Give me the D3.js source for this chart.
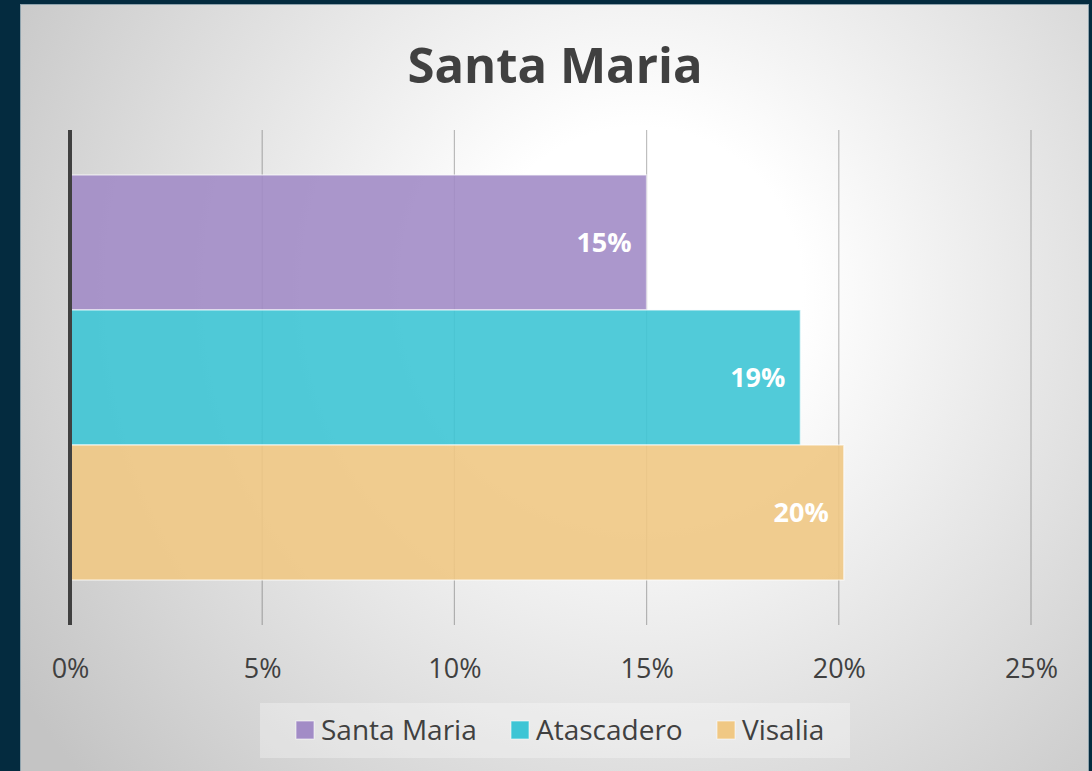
<!DOCTYPE html>
<html>
<head>
<meta charset="utf-8">
<script src="https://cdn.jsdelivr.net/npm/d3@7"></script>
<style>
  body { margin: 0; background: #042b3f; }
  svg { display: block; }
</style>
</head>
<body>
<div id="chart"></div>
<script>
// data
const series = ["Santa Maria", "Atascadero", "Visalia"];
const values = [0.15, 0.19, 0.2013];
const colors = ["#a28cc6", "#3ec5d5", "#f0c884"];
const ticks = [0, 0.05, 0.10, 0.15, 0.20, 0.25];
const title = "Santa Maria";

const W = 1092, H = 771;
const font = "'Open Sans', 'Noto Sans', sans-serif";

const svg = d3.select("#chart")
  .append("svg")
  .attr("width", W)
  .attr("height", H);

// background gradient of the panel
const defs = svg.append("defs");
const grad = defs.append("radialGradient")
  .attr("id", "bg")
  .attr("gradientUnits", "userSpaceOnUse")
  .attr("cx", 640).attr("cy", 290).attr("r", 740);
grad.append("stop").attr("offset", "0%").attr("stop-color", "#ffffff");
grad.append("stop").attr("offset", "22%").attr("stop-color", "#ffffff");
grad.append("stop").attr("offset", "100%").attr("stop-color", "#c4c4c4");

svg.append("rect")
  .attr("width", W).attr("height", H)
  .attr("fill", "#042b3f");

svg.append("rect")
  .attr("x", 20.5).attr("y", 4.5)
  .attr("width", 1068).attr("height", 770)
  .attr("fill", "url(#bg)")
  .attr("stroke", "#8fa3ad")
  .attr("stroke-width", 1);

// title
svg.append("text")
  .attr("x", 555)
  .attr("y", 83)
  .attr("text-anchor", "middle")
  .attr("font-family", font)
  .attr("font-weight", 700)
  .attr("font-size", 49)
  .attr("fill", "#404040")
  .text(title);

// scales
const plot = {left: 70, right: 1031, top: 130, bottom: 625};
const x = d3.scaleLinear().domain([0, 0.25]).range([plot.left, plot.right]);
const y = d3.scaleBand().domain(series).range([plot.top, plot.bottom])
  .paddingInner(0).paddingOuter(0.333);

// gridlines
svg.append("g")
  .selectAll("line")
  .data(ticks.slice(1))
  .join("line")
  .attr("x1", d => x(d)).attr("x2", d => x(d))
  .attr("y1", plot.top).attr("y2", plot.bottom)
  .attr("stroke", "rgba(0,0,0,0.25)")
  .attr("stroke-width", 1.2);

// bars
svg.append("g")
  .selectAll("rect")
  .data(series)
  .join("rect")
  .attr("x", x(0))
  .attr("y", d => y(d))
  .attr("width", (d, i) => x(values[i]) - x(0))
  .attr("height", y.bandwidth())
  .attr("fill", (d, i) => colors[i])
  .attr("fill-opacity", 0.9)
  .attr("stroke", "rgba(255,255,255,0.55)")
  .attr("stroke-width", 1.5);

// bar labels
svg.append("g")
  .selectAll("text")
  .data(series)
  .join("text")
  .attr("x", (d, i) => x(values[i]) - 15)
  .attr("y", d => y(d) + y.bandwidth() / 2)
  .attr("dy", "0.35em")
  .attr("text-anchor", "end")
  .attr("font-family", font)
  .attr("font-weight", 700)
  .attr("font-size", 27)
  .attr("fill", "#ffffff")
  .text((d, i) => d3.format(".0%")(values[i]));

// vertical axis line
svg.append("line")
  .attr("x1", x(0)).attr("x2", x(0))
  .attr("y1", plot.top).attr("y2", plot.bottom)
  .attr("stroke", "#404040")
  .attr("stroke-width", 4);

// x axis labels
const xAxis = svg.append("g")
  .attr("transform", `translate(0,${plot.bottom + 44})`)
  .call(d3.axisBottom(x).tickValues(ticks).tickFormat(d3.format(".0%")).tickSize(0).tickPadding(0));
xAxis.select(".domain").remove();
xAxis.selectAll("text")
  .attr("dy", "0.35em")
  .attr("font-family", font)
  .attr("font-size", 27)
  .attr("fill", "#404040");

// legend
const legend = svg.append("g");
legend.append("rect")
  .attr("x", 260).attr("y", 703)
  .attr("width", 590).attr("height", 55)
  .attr("fill", "rgba(255,255,255,0.3)");

const legendX = [296, 511, 717];
const items = legend.selectAll("g")
  .data(series)
  .join("g")
  .attr("transform", (d, i) => `translate(${legendX[i]},730)`);
items.append("rect")
  .attr("x", 0).attr("y", -9)
  .attr("width", 18).attr("height", 18)
  .attr("fill", (d, i) => colors[i])
  .attr("stroke", "rgba(255,255,255,0.6)");
items.append("text")
  .attr("x", 25)
  .attr("dy", "0.36em")
  .attr("font-family", font)
  .attr("font-size", 28)
  .attr("fill", "#404040")
  .text(d => d);
</script>
</body>
</html>
